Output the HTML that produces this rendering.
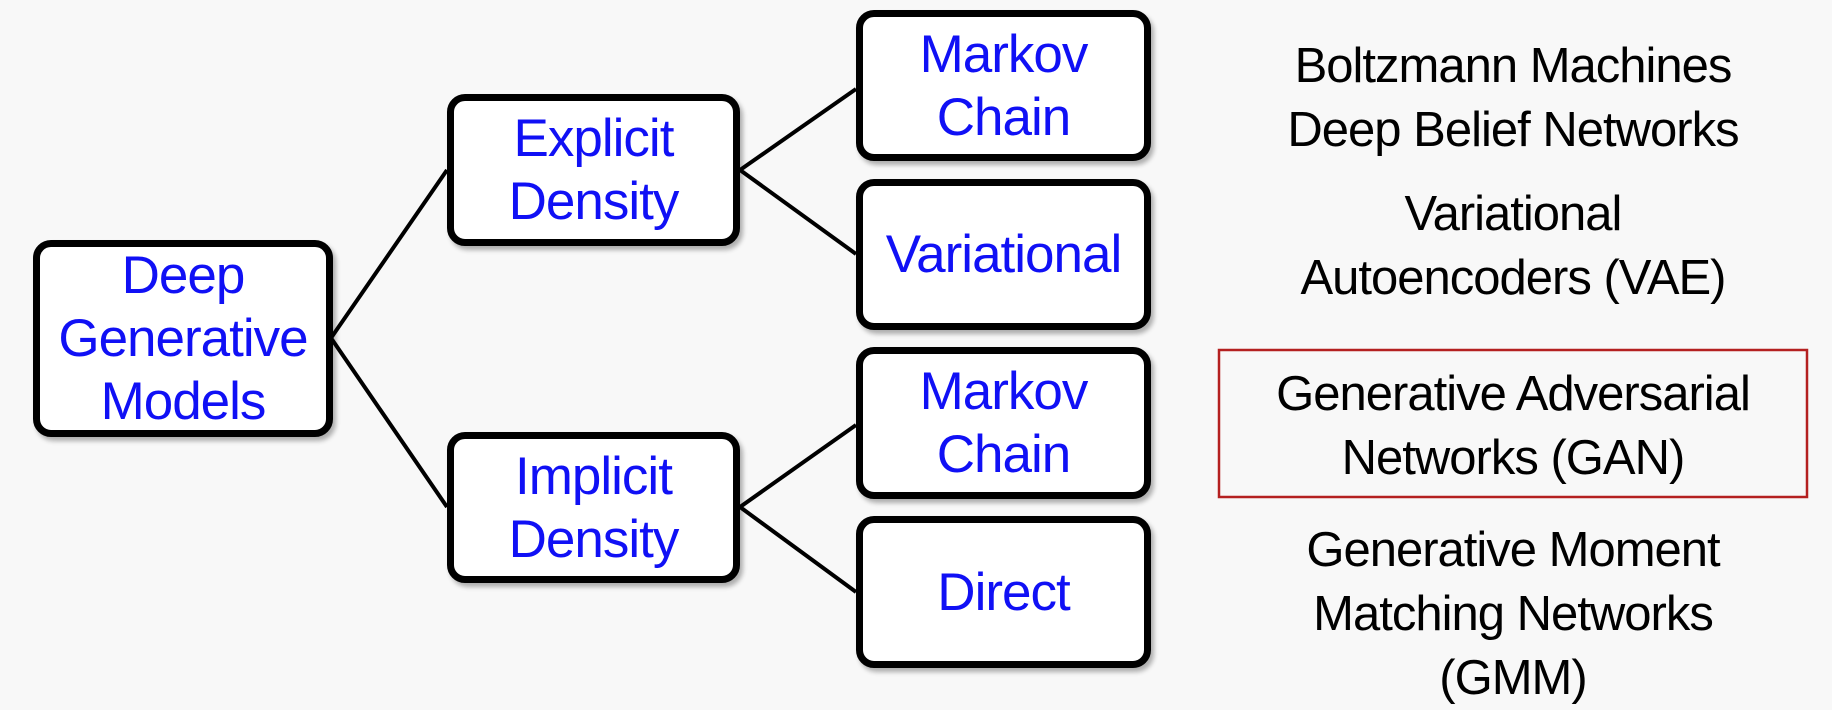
<!DOCTYPE html>
<html><head><meta charset="utf-8"><style>
body{margin:0;width:1832px;height:698px;background:#f8f8f8;position:relative;overflow:hidden;font-family:"Liberation Sans",sans-serif}
.b{position:absolute;box-sizing:border-box;border:7px solid #000;border-radius:18px;background:#fff;box-shadow:3px 4px 5px rgba(0,0,0,.3);display:flex;align-items:center;justify-content:center;text-align:center;color:#1010f5;font-size:53px;line-height:63px;letter-spacing:-1px;white-space:nowrap}
.t{position:absolute;left:1218px;width:590px;text-align:center;font-size:49px;color:#000;line-height:64px;letter-spacing:-1px;white-space:nowrap}
svg{position:absolute;left:0;top:0}
</style></head><body>
<svg width="1832" height="698"><g stroke="#000" stroke-width="4" fill="none">
<path d="M331 338 L447 170 M331 338 L447 507 M740 170 L856 89 M740 170 L856 254 M740 507 L856 425 M740 507 L856 592"/></g>
<rect x="1219" y="350" width="588" height="147" fill="none" stroke="#b42020" stroke-width="2.5"/></svg>
<div class="b" style="left:33px;top:240px;width:300px;height:197px">Deep<br>Generative<br>Models</div>
<div class="b" style="left:447px;top:94px;width:293px;height:152px">Explicit<br>Density</div>
<div class="b" style="left:447px;top:432px;width:293px;height:151px">Implicit<br>Density</div>
<div class="b" style="left:856px;top:10px;width:295px;height:151px">Markov<br>Chain</div>
<div class="b" style="left:856px;top:179px;width:295px;height:151px">Variational</div>
<div class="b" style="left:856px;top:347px;width:295px;height:152px">Markov<br>Chain</div>
<div class="b" style="left:856px;top:516px;width:295px;height:152px">Direct</div>
<div class="t" style="top:34px">Boltzmann Machines<br>Deep Belief Networks</div>
<div class="t" style="top:182px">Variational<br>Autoencoders (VAE)</div>
<div class="t" style="top:362px">Generative Adversarial<br>Networks (GAN)</div>
<div class="t" style="top:518px">Generative Moment<br>Matching Networks<br>(GMM)</div>
</body></html>
